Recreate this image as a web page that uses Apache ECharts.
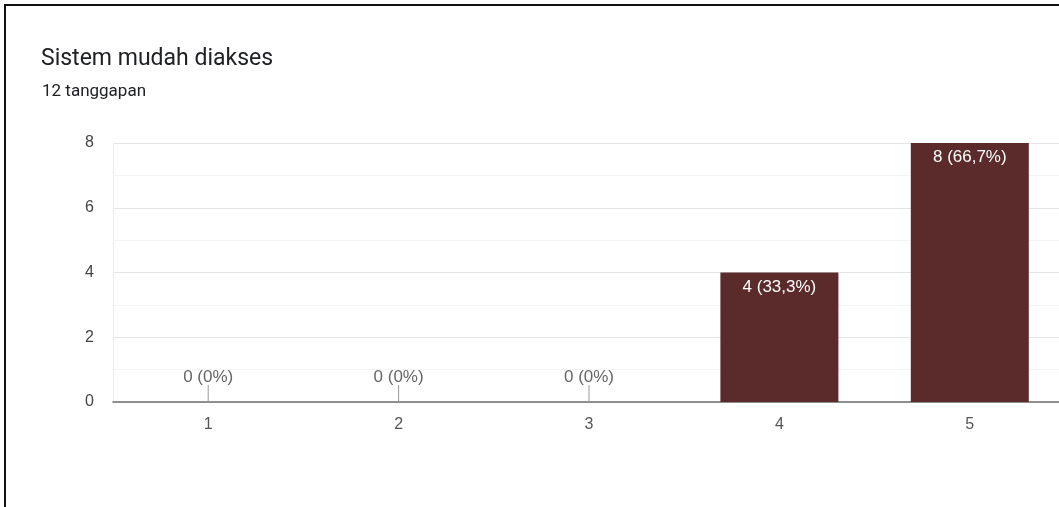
<!DOCTYPE html>
<html>
<head>
<meta charset="utf-8">
<script src="https://cdn.jsdelivr.net/npm/echarts@6/dist/echarts.min.js"></script>
<style>
html,body{margin:0;padding:0;background:#fff;width:1059px;height:507px;overflow:hidden;position:relative;}
#frame{position:absolute;left:4px;top:4px;width:1100px;height:600px;border-left:2px solid #111;border-top:2px solid #111;}
#chart{position:absolute;left:0;top:0;width:1075px;height:507px;}
</style>
</head>
<body>
<div id="frame"></div>
<div id="chart"></div>
<script>
const categories = ['1', '2', '3', '4', '5'];
const values = [0, 0, 0, 4, 8];
const yTicks = [0, 2, 4, 6, 8];
const titleText = 'Sistem mudah diakses';
const subtitleText = '12 tanggapan';

const total = values.reduce((a, b) => a + b, 0);
function pct(v) {
  const p = Math.round(v / total * 1000) / 10;
  return (Number.isInteger(p) ? String(p) : p.toFixed(1).replace('.', ',')) + '%';
}
function lbl(v) { return v + ' (' + pct(v) + ')'; }

const FONT = 'Liberation Sans, Arial';
const chart = echarts.init(document.getElementById('chart'), null, {renderer: 'canvas'});
const zeroData = values.map((v, i) => v === 0 ? [i, 0] : null).filter(Boolean);

chart.setOption({
  animation: false,
  title: [
    {text: titleText, left: 36, top: 43, textStyle: {fontFamily: 'Roboto', fontSize: 23, fontWeight: 'normal', color: '#202124'}},
    {text: subtitleText, left: 37, top: 78, textStyle: {fontFamily: 'Roboto', fontSize: 17, fontWeight: 'normal', color: '#202124'}}
  ],
  grid: {left: 113, top: 143, width: 952, height: 259, containLabel: false},
  xAxis: {
    type: 'category',
    data: categories,
    axisLine: {show: true, lineStyle: {color: '#6f6f6f', width: 1.5}},
    axisTick: {show: false},
    axisLabel: {color: '#555', fontFamily: FONT, fontSize: 16, margin: 15}
  },
  yAxis: {
    type: 'value',
    min: 0, max: 8, interval: 2,
    axisLine: {show: true, lineStyle: {color: '#eeeeee'}},
    axisTick: {show: false},
    axisLabel: {color: '#444', fontFamily: FONT, fontSize: 16, margin: 19,
      formatter: v => yTicks.includes(v) ? String(v) : ''},
    splitLine: {lineStyle: {color: '#e6e6e6'}},
    minorTick: {show: false, splitNumber: 2},
    minorSplitLine: {show: true, lineStyle: {color: '#f4f4f4'}}
  },
  series: [
    {
      type: 'bar',
      data: values,
      barWidth: 118,
      itemStyle: {color: '#5b2a2a'},
      label: {
        show: true, position: 'insideTop', distance: 6,
        color: '#fff', fontFamily: FONT, fontSize: 17,
        formatter: p => p.value > 0 ? lbl(p.value) : ''
      }
    },
    {
      type: 'custom',
      data: zeroData,
      z: 5,
      renderItem: function (params, api) {
        const pt = api.coord([api.value(0), api.value(1)]);
        return {
          type: 'group',
          children: [
            {type: 'line', shape: {x1: pt[0], y1: pt[1] - 17, x2: pt[0], y2: pt[1]},
             style: {stroke: '#999', lineWidth: 1}},
            {type: 'text', x: pt[0], y: pt[1] - 25,
             style: {text: lbl(api.value(1)), fill: '#666', font: '17px "Liberation Sans", Arial',
                     align: 'center', verticalAlign: 'middle'}}
          ]
        };
      }
    }
  ]
});
</script>
</body>
</html>
